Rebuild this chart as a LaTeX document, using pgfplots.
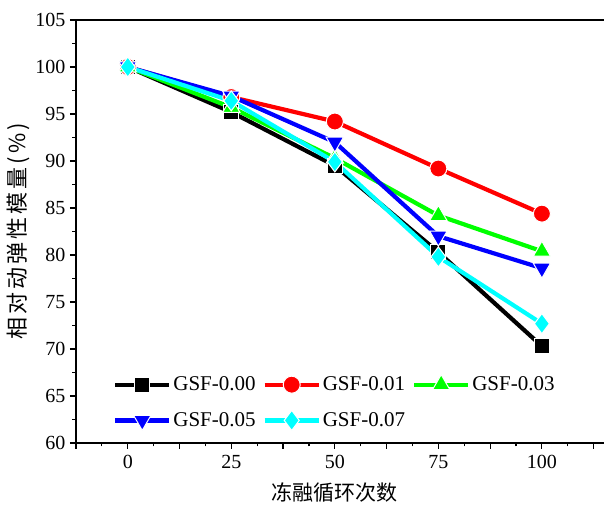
\documentclass[border=0pt]{standalone}
\usepackage{pgfplots}
\pgfplotsset{compat=1.18}
\usepackage{fontspec}
\setmainfont{Liberation Serif}
\newfontfamily\cjk{Noto Sans CJK SC}
\newfontfamily\cjkls[LetterSpace=14]{Noto Sans CJK SC}
\definecolor{cgreen}{RGB}{0,255,0}
\definecolor{ccyan}{RGB}{0,255,255}
\definecolor{cblue}{RGB}{0,0,255}
\definecolor{cred}{RGB}{255,0,0}
\begin{document}
\begin{tikzpicture}
\begin{axis}[
  scale only axis, width=528pt, height=423pt,
  xmin=-12.5, xmax=115, ymin=60, ymax=105,
  axis lines*=left,
  axis line style={line width=1.3pt},
  tick align=outside,
  tick style={line width=1.2pt, black},
  major tick length=6pt, minor tick length=3.5pt,
  xtick={-12.5,0,12.5,25,37.5,50,62.5,75,87.5,100,112.5},
  xticklabels={,0,,25,,50,,75,,100,},
  minor x tick num=1,
  ytick={60,65,...,105},
  minor y tick num=1,
  /pgf/number format/assume math mode=true,
  tick label style={font=\fontsize{20}{22}\selectfont},
  xticklabel style={yshift=-3pt},
  yticklabel style={xshift=-1pt},
  xlabel={\cjk 冻融循环次数},
  ylabel={\cjkls 相对动弹性模量(\%)},
  xlabel style={font=\fontsize{21}{24}\selectfont, at={(axis description cs:0.49,-0.118)}, anchor=center},
  ylabel style={font=\fontsize{22}{24}\selectfont, at={(axis description cs:-0.11,0.5)}, anchor=center},
  legend columns=3,
  legend style={at={(axis description cs:0.07,0.162)}, anchor=north west, draw=none, fill=none,
    font=\fontsize{21}{24}\selectfont, /tikz/every even column/.append style={column sep=5pt},
    row sep=16pt, inner sep=0pt},
  legend cell align=left,
  legend image code/.code={\draw[mark repeat=2,mark phase=2] plot coordinates {(0pt,0pt) (27pt,0pt) (54pt,0pt)};},
  every axis plot/.append style={line width=4.2pt},
]
\addplot[black, mark=square*, mark size=7.5pt, mark options={solid, fill=black, draw=white, line width=1pt}]
  coordinates {(0,100) (25,95.2) (50,89.5) (75,80.3) (100,70.3)};
\addplot[cred, mark=*, mark size=8.5pt, mark options={solid, fill=cred, draw=white, line width=1pt}]
  coordinates {(0,100) (25,96.8) (50,94.2) (75,89.2) (100,84.4)};
\addplot[cgreen, mark=triangle*, mark size=10pt, mark options={solid, fill=cgreen, draw=white, line width=1pt}]
  coordinates {(0,100) (25,95.7) (50,90.3) (75,84.2) (100,80.4)};
\addplot[cblue, mark=triangle*, mark size=10pt, mark options={solid, rotate=180, fill=cblue, draw=white, line width=1pt}]
  coordinates {(0,100) (25,96.9) (50,92.0) (75,82.0) (100,78.6)};
\addplot[ccyan, mark=diamond*, mark size=10pt, mark options={solid, fill=ccyan, draw=white, line width=1pt}]
  coordinates {(0,100) (25,96.4) (50,89.9) (75,79.8) (100,72.7)};
\legend{GSF-0.00,GSF-0.01,GSF-0.03,GSF-0.05,GSF-0.07}
\coordinate (O) at (rel axis cs:0,0);
\coordinate (T) at (rel axis cs:1,1);
\end{axis}
\draw[line width=1.3pt] (O |- T) -- (T);
\pgfresetboundingbox
\path ([shift={(-76pt,-64pt)}]O) rectangle ([shift={(0pt,20pt)}]T);
\end{tikzpicture}
\end{document}
